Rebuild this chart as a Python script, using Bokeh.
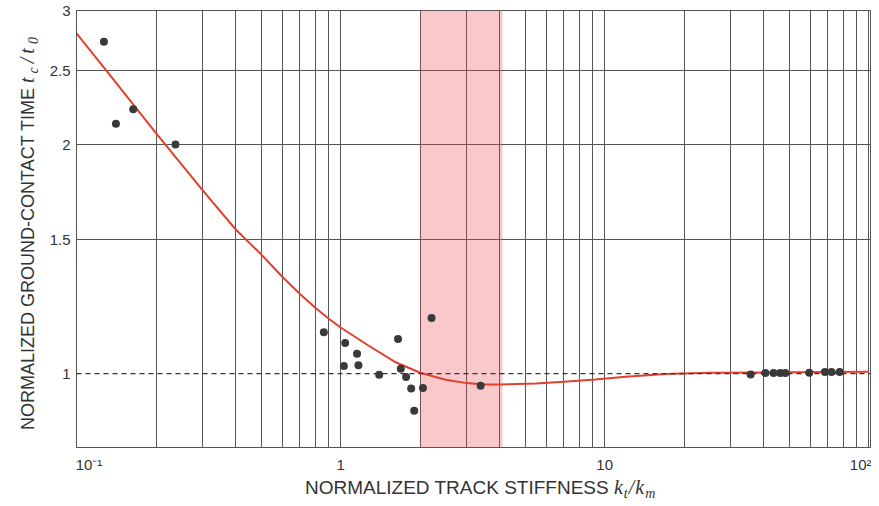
from bokeh.plotting import figure
from bokeh.layouts import row, column
from bokeh.models import (Range1d, FixedTicker, BoxAnnotation, Span, Div,
                          NumeralTickFormatter)
from bokeh.embed import file_html
from bokeh.resources import INLINE

# ---------------- data ----------------
curve_x = [0.1, 0.13, 0.2, 0.3, 0.4, 0.5, 0.6, 0.7, 0.8, 0.9, 1.0, 1.27, 1.6,
           2.0, 2.5, 3.0, 3.5, 4.0, 5.5, 7.0, 9.2, 12, 17, 25, 40, 70, 100]
curve_y = [2.80, 2.50, 2.07, 1.742, 1.548, 1.435, 1.342, 1.274, 1.222, 1.182,
           1.150, 1.090, 1.037, 1.003, 0.982, 0.972, 0.968, 0.968, 0.971, 0.976,
           0.983, 0.991, 0.999, 1.003, 1.004, 1.005, 1.006]

point_x = [0.127, 0.141, 0.164, 0.237,
           0.864, 1.041, 1.154, 1.029, 1.168, 1.40, 1.65, 1.69, 1.77, 1.85,
           2.05, 1.90, 2.21, 3.39,
           35.7, 40.6, 43.6, 46.2, 48.3, 59.5, 68.2, 72.2, 77.6]
point_y = [2.73, 2.13, 2.225, 2.0,
           1.134, 1.097, 1.062, 1.024, 1.026, 0.997, 1.111, 1.015, 0.990, 0.956,
           0.958, 0.894, 1.184, 0.964,
           0.998, 1.002, 1.002, 1.002, 1.002, 1.003, 1.005, 1.005, 1.005]

x_grid_values = [0.2, 0.3, 0.4, 0.5, 0.6, 0.7, 0.8, 0.9, 1,
                 2, 3, 4, 5, 6, 7, 8, 9, 10,
                 20, 30, 40, 50, 60, 70, 80, 90, 100]
x_tick_values = [0.1, 1, 10, 100]
x_tick_labels = ["\u2007\u2007\u200710\u207b\u00b9", "1", "10", "10\u00b2"]
y_tick_values = [1, 1.5, 2, 2.5, 3]
y_grid_values = [1.5, 2, 2.5]
band_range = [2.0, 4.1]
reference_level = 1.0

x_title = "NORMALIZED TRACK STIFFNESS"
x_unit = ("k", "t", "k", "m")
y_title = "NORMALIZED GROUND-CONTACT TIME"
y_unit = ("t", "c", "t", "0")

FONT = "Liberation Sans"
GRID = "#555555"
TXT = "#333333"

# ---------------- main chart ----------------
p = figure(width=831, height=475, x_axis_type="log", y_axis_type="log",
           x_range=Range1d(0.1, 101.5), y_range=Range1d(0.8, 3.0),
           output_backend="svg", toolbar_location=None,
           min_border_left=36, min_border_right=1, min_border_top=10,
           min_border_bottom=26)
p.background_fill_color = "white"
p.border_fill_color = "white"
p.outline_line_color = GRID
p.outline_line_width = 1

p.xaxis.ticker = FixedTicker(ticks=x_tick_values)
p.xaxis.major_label_overrides = {v: s for v, s in zip(x_tick_values, x_tick_labels)}
p.yaxis.ticker = FixedTicker(ticks=y_tick_values)
p.yaxis.formatter = NumeralTickFormatter(format="0.[0]")
for ax in (p.xaxis, p.yaxis):
    ax.major_tick_line_color = None
    ax.minor_tick_line_color = None
    ax.major_tick_out = 0
    ax.major_tick_in = 0
    ax.axis_line_color = GRID
    ax.major_label_text_font = FONT
    ax.major_label_text_font_size = "15px"
    ax.major_label_text_color = TXT
p.xaxis.major_label_standoff = 8
p.yaxis.major_label_standoff = 6

p.xgrid.ticker = FixedTicker(ticks=x_grid_values)
p.ygrid.ticker = FixedTicker(ticks=y_grid_values)
for g in (p.xgrid, p.ygrid):
    g.grid_line_color = GRID
    g.grid_line_width = 1
    g.grid_line_alpha = 1
    g.minor_grid_line_color = None

band = BoxAnnotation(left=band_range[0], right=band_range[1],
                     fill_color="#e84a50", fill_alpha=0.3,
                     line_color=None, level="underlay")
p.add_layout(band)

p.add_layout(Span(location=reference_level, dimension="width",
                  line_color="#333333", line_dash="5 4", line_width=1.2))

p.line(curve_x, curve_y, line_color="#e0412e", line_width=2)
p.scatter(point_x, point_y, size=8, fill_color="#3a3a3a", line_color=None)

# ---------------- axis titles (HTML, with italic symbols and subscripts) ----------------
SUB = "vertical-align:baseline;position:relative;top:4px;font-size:14px;"
ITAL = "font-family:'Liberation Serif';font-size:20px;font-style:italic;"


def unit_html(a, sa, b, sb, spacing):
    return (f'<i style="{ITAL}letter-spacing:{spacing}px;">{a}<sub style="{SUB}">{sa}</sub>'
            f'/{b}<sub style="{SUB}">{sb}</sub></i>')


x_html = (
    '<div style="position:relative;width:831px;height:23px;overflow:visible;">'
    f'<div style="position:absolute;left:265px;top:3px;white-space:nowrap;'
    f"font-family:'{FONT}';font-size:19px;line-height:19px;color:{TXT};\">"
    f'{x_title} {unit_html(x_unit[0], x_unit[1], x_unit[2], x_unit[3], 1)}'
    '</div></div>'
)
y_html = (
    '<div style="position:relative;width:40px;height:498px;overflow:visible;">'
    f'<div style="position:absolute;left:18px;top:430px;transform-origin:0 0;'
    f'transform:rotate(-90deg);white-space:nowrap;'
    f"font-family:'{FONT}';font-size:18px;line-height:18px;color:{TXT};\">"
    f'{y_title} {unit_html(y_unit[0], y_unit[1], y_unit[2], y_unit[3], 4)}'
    '</div></div>'
)

x_div = Div(text=x_html, width=831, height=23, margin=(0, 0, 0, 0))
y_div = Div(text=y_html, width=40, height=498, margin=(0, 0, 0, 0))

layout = row(y_div, column(p, x_div))
open("out.html", "w").write(file_html(layout, INLINE))
